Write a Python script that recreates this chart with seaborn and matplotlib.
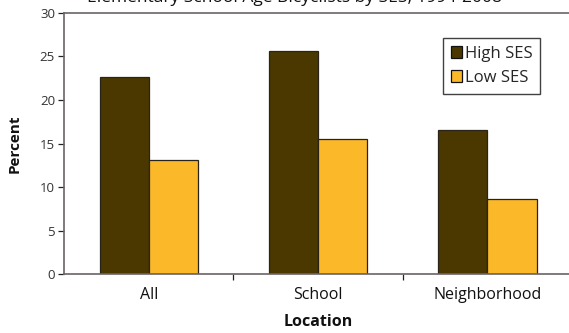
import matplotlib
matplotlib.use("Agg")
import matplotlib.pyplot as plt
import seaborn as sns
import pandas as pd
from matplotlib.ticker import FixedLocator

# Share of elementary school age bicyclists by location and SES
locations = ["All", "School", "Neighborhood"]
high_ses = [22.7, 25.6, 16.6]
low_ses = [13.1, 15.5, 8.6]
series_names = ["High SES", "Low SES"]
y_ticks = [0, 5, 10, 15, 20, 25, 30]

df = pd.DataFrame({
    "Location": locations * 2,
    "SES": [series_names[0]] * len(locations) + [series_names[1]] * len(locations),
    "Percent": high_ses + low_ses,
})

sns.set_style("white")
plt.rcParams["font.family"] = ["Open Sans", "DejaVu Sans"]

fig = plt.figure(figsize=(5.69, 3.33), dpi=100)
ax = fig.add_axes([0.1125, 0.177, 0.893, 0.784])

palette = {"High SES": "#4a3800", "Low SES": "#fbb829"}
sns.barplot(data=df, x="Location", y="Percent", hue="SES", palette=palette,
            width=0.58, edgecolor="#2a2418", linewidth=0.9, saturation=1,
            ax=ax)

ax.set_ylim(0, 30)
ax.set_xlim(-0.5, 2.5)
ax.set_yticks(y_ticks)
ax.tick_params(axis="y", labelsize=9.5, length=4, width=0.9,
               direction="out", left=True, pad=2.5, color="#222222")
ax.tick_params(axis="x", which="major", length=0, labelsize=11.5, pad=9,
               colors="#111111")
ax.xaxis.set_minor_locator(FixedLocator([0.5, 1.5]))
ax.tick_params(axis="x", which="minor", length=4, width=0.9,
               direction="out", bottom=True, color="#222222")
for lab in ax.get_yticklabels():
    lab.set_color("#333333")

for side in ["left", "bottom", "top", "right"]:
    ax.spines[side].set_visible(True)
    ax.spines[side].set_color("#6b6466")
    ax.spines[side].set_linewidth(1.2)

ax.set_ylabel("Percent", fontsize=11, fontweight="bold", labelpad=13,
              color="#111111")
ax.set_xlabel("Location", fontsize=11.5, fontweight="bold", labelpad=8,
              color="#111111")

leg = ax.legend(loc="upper left", bbox_to_anchor=(0.73, 0.935),
                frameon=True, fancybox=False, edgecolor="#111111",
                fontsize=12, handlelength=0.7, handleheight=0.7,
                handletextpad=0.15, borderpad=0.45, labelspacing=0.5)
leg.get_frame().set_linewidth(1.0)
for h in leg.legend_handles:
    h.set_edgecolor("#111111")

fig.text(0.517, 1.005, "Elementary School Age Bicyclists by SES, 1994-2008",
         ha="center", va="center", fontsize=12.5, color="#111111")

fig.savefig("out.png", dpi=100)
